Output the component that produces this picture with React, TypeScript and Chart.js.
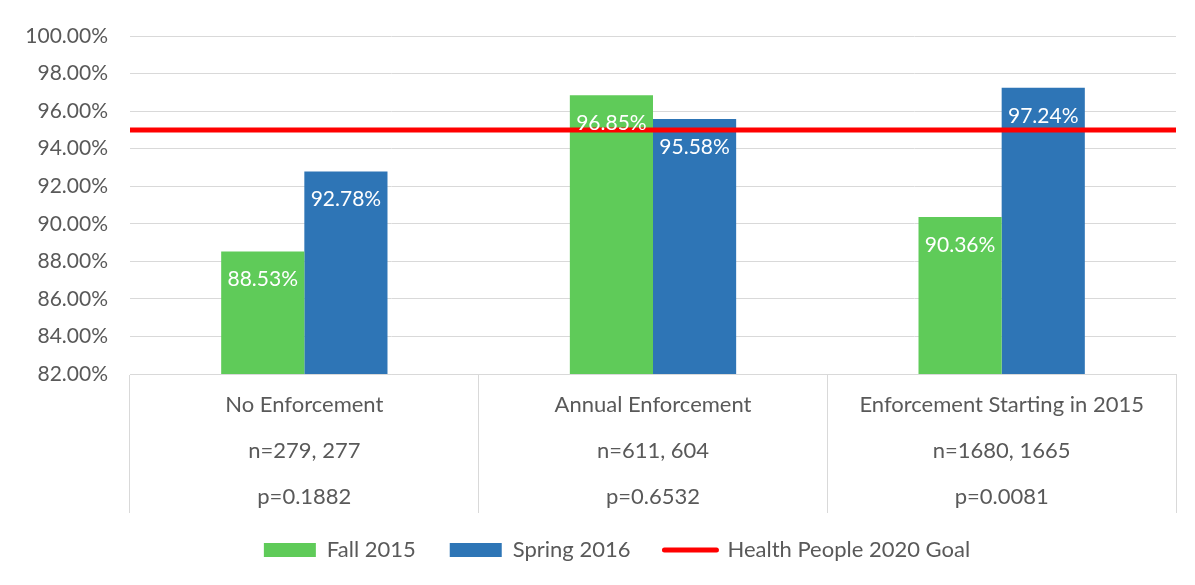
import React, { useEffect, useRef } from 'react';
import { Chart, registerables } from 'chart.js';

Chart.register(...registerables);

const categories: string[][] = [
  ['No Enforcement', 'n=279, 277', 'p=0.1882'],
  ['Annual Enforcement', 'n=611, 604', 'p=0.6532'],
  ['Enforcement Starting in 2015', 'n=1680, 1665', 'p=0.0081'],
];
const seriesNames = ['Fall 2015', 'Spring 2016', 'Health People 2020 Goal'];
const fall2015 = [88.53, 96.85, 90.36];
const spring2016 = [92.78, 95.58, 97.24];
const goalValue = 95;
const yMin = 82;
const yMax = 100;
const yStep = 2;

const GREEN = '#5FCB59';
const BLUE = '#2E75B6';
const RED = '#FF0000';
const GRID = '#D9D9D9';
const TEXT = '#595959';
const FONT = 'Lato';

// goal line spans the full category axis: from the left edge (-0.5) to the right edge (n - 0.5)
const goalPoints = [
  { x: -0.5, y: goalValue },
  { x: categories.length - 0.5, y: goalValue },
];

const valueLabels = {
  id: 'valueLabels',
  afterDatasetsDraw(chart: any) {
    const ctx = chart.ctx;
    chart.data.datasets.forEach((ds: any, di: number) => {
      if (ds.type === 'line') return;
      const meta = chart.getDatasetMeta(di);
      meta.data.forEach((el: any, i: number) => {
        const v = ds.data[i] as number;
        ctx.save();
        ctx.fillStyle = '#FFFFFF';
        ctx.font = `21px ${FONT}`;
        ctx.textAlign = 'center';
        ctx.textBaseline = 'middle';
        ctx.fillText(v.toFixed(2) + '%', el.x, el.y + 28);
        ctx.restore();
      });
    });
  },
};

const layoutTweaks = {
  id: 'layoutTweaks',
  afterLayout(chart: any) {
    const x = chart.scales.x;
    x.bottom = x.top + 150;
    if (chart.legend) {
      chart.legend.left += 25;
      chart.legend.right += 25;
    }
  },
};

export default function App() {
  const ref = useRef<HTMLCanvasElement | null>(null);
  useEffect(() => {
    document.documentElement.style.overflow = 'hidden';
    document.body.style.overflow = 'hidden';
    const canvas = ref.current!;
    const chart = new Chart(canvas, {
      type: 'bar',
      data: {
        labels: categories,
        datasets: [
          {
            type: 'bar',
            label: seriesNames[0],
            data: fall2015,
            backgroundColor: GREEN,
          } as any,
          {
            type: 'bar',
            label: seriesNames[1],
            data: spring2016,
            backgroundColor: BLUE,
          } as any,
          {
            type: 'line',
            label: seriesNames[2],
            data: goalPoints,
            parsing: false,
            borderColor: RED,
            backgroundColor: RED,
            borderWidth: 5,
            pointRadius: 0,
            order: -1,
          } as any,
        ],
      },
      options: {
        responsive: false,
        animation: false,
        devicePixelRatio: 1,
        datasets: { bar: { categoryPercentage: 0.477, barPercentage: 1 } },
        layout: { padding: { top: 28, right: 13, left: 0, bottom: 25 } },
        plugins: {
          tooltip: { enabled: false },
          legend: {
            position: 'bottom',
            labels: {
              usePointStyle: true,
              boxHeight: 14,
              pointStyleWidth: 52,
              padding: 34,
              color: TEXT,
              font: { family: FONT, size: 22 },
              generateLabels: (c: any) =>
                c.data.datasets.map((ds: any, i: number) => ({
                  text: ds.label,
                  fillStyle: ds.type === 'line' ? RED : ds.backgroundColor,
                  strokeStyle: ds.type === 'line' ? RED : ds.backgroundColor,
                  lineWidth: ds.type === 'line' ? 5 : 0,
                  lineCap: 'round',
                  pointStyle: ds.type === 'line' ? 'line' : 'rect',
                  fontColor: TEXT,
                  hidden: false,
                  datasetIndex: i,
                })),
            },
          },
        },
        scales: {
          x: {
            type: 'category',
            offset: true,
            grid: {
              display: true,
              drawOnChartArea: false,
              drawTicks: true,
              tickLength: 139,
              color: GRID,
              offset: true,
            },
            border: { display: true, color: GRID },
            ticks: {
              color: TEXT,
              font: { family: FONT, size: 22, lineHeight: 46 / 22 },
              padding: -131,
              maxRotation: 0,
              autoSkip: false,
            },
            afterFit: (s: any) => {
              s.height = 131;
            },
          },
          y: {
            type: 'linear',
            min: yMin,
            max: yMax,
            border: { display: false },
            grid: { color: GRID, drawTicks: false },
            ticks: {
              stepSize: yStep,
              padding: 22,
              color: TEXT,
              font: { family: FONT, size: 21 },
              callback: (v: any) => Number(v).toFixed(2) + '%',
            },
            afterFit: (s: any) => {
              s.width = 122;
              s.paddingTop = 0;
              s.paddingBottom = 0;
            },
          },
        },
      } as any,
      plugins: [valueLabels, layoutTweaks],
    });
    return () => chart.destroy();
  }, []);
  return (
    <div
      style={{
        width: 1183,
        height: 590,
        border: `1px solid ${GRID}`,
        boxSizing: 'border-box',
        margin: '-1px 0 0 -1px',
      }}
    >
      <canvas ref={ref} width={1181} height={588} style={{ display: 'block' }} />
    </div>
  );
}
